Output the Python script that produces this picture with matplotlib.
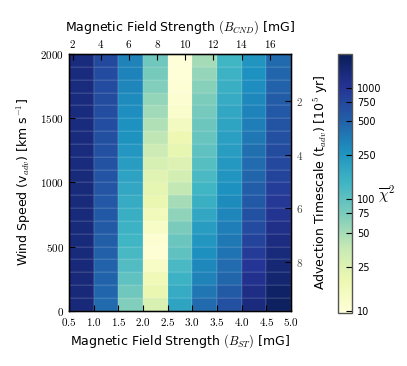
import numpy as np
import matplotlib
matplotlib.use("Agg")
import matplotlib.pyplot as plt
from matplotlib.colors import LogNorm
from matplotlib.ticker import FixedLocator, FuncFormatter

plt.rcParams['mathtext.fontset'] = 'cm'
plt.rcParams['font.family'] = ['DejaVu Sans']

# grid edges
b_st_edges = [0.5, 1.0, 1.5, 2.0, 2.5, 3.0, 3.5, 4.0, 4.5, 5.0]
v_edges = list(range(0, 2001, 100))

# chi^2 per B_ST column, listed from wind speed 0-100 upward to 1900-2000
col_075 = [1400, 1390, 1380, 1380, 1370, 1370, 1360, 1360, 1350, 1350,
           1350, 1340, 1340, 1340, 1330, 1330, 1330, 1320, 1320, 1320]
col_125 = [450, 470, 485, 500, 515, 530, 550, 565, 580, 600,
           620, 635, 650, 665, 680, 690, 700, 710, 715, 720]
col_175 = [70, 85, 100, 115, 130, 140, 150, 160, 170, 185,
           200, 220, 240, 260, 270, 280, 290, 310, 320, 330]
col_225 = [27, 20, 17, 13, 10.5, 11, 13, 16, 20, 22,
           24, 28, 33, 39, 45, 52, 60, 70, 78, 85]
col_275 = [190, 170, 150, 125, 100, 90, 75, 62, 50, 38,
           30, 25, 21, 18, 15, 12, 11, 10.5, 10.2, 10]
col_325 = [450, 380, 330, 300, 275, 245, 215, 185, 160, 140,
           125, 112, 100, 92, 86, 80, 73, 66, 58, 50]
col_375 = [650, 560, 480, 440, 400, 370, 340, 310, 290, 270,
           250, 235, 220, 210, 195, 185, 170, 160, 150, 140]
col_425 = [1300, 1200, 1100, 1000, 900, 800, 710, 640, 570, 520,
           480, 440, 410, 370, 340, 320, 300, 280, 265, 250]
col_475 = [1800, 1700, 1550, 1450, 1350, 1250, 1150, 1050, 950, 880,
           800, 750, 700, 660, 620, 580, 540, 500, 470, 450]

cb_ticks = [10, 25, 50, 75, 100, 250, 500, 750, 1000]
top_ticks = [2, 4, 6, 8, 10, 12, 14, 16]
right_ticks = [2, 4, 6, 8]

chi2 = np.column_stack([col_075, col_125, col_175, col_225, col_275,
                        col_325, col_375, col_425, col_475])

fig = plt.figure(figsize=(4.07, 3.66), dpi=100)
ax = fig.add_axes([0.1695, 0.151, 0.5455, 0.701])
cax = fig.add_axes([0.8305, 0.145, 0.0344, 0.707])

norm = LogNorm(vmin=9.6, vmax=2000)
mesh = ax.pcolormesh(b_st_edges, v_edges, chi2, cmap='YlGnBu', norm=norm,
                     edgecolor=(1, 1, 1, 0.07), linewidth=0.3)
ax.set_xlim(0.5, 5.0)
ax.set_ylim(0, 2000)

math_fmt = FuncFormatter(lambda v, p: r'$%d$' % v)
ax.set_xticks(b_st_edges)
ax.xaxis.set_major_formatter(FuncFormatter(lambda v, p: r'$%.1f$' % v))
ax.set_yticks([0, 500, 1000, 1500, 2000])
ax.yaxis.set_major_formatter(math_fmt)
ax.tick_params(direction='in', length=4, width=0.8, labelsize=8, top=False, right=False)
for s in ax.spines.values():
    s.set_linewidth(1.0)

ax.set_xlabel(r'Magnetic Field Strength $(B_{ST})$ [mG]', fontsize=9, labelpad=3)
ax.set_ylabel(r'Wind Speed (v$_{adv}$) [km s$^{-1}$]', fontsize=9, labelpad=5)

# top axis: B_CND
axt = ax.twiny()
axt.set_xlim(0.5 * 3.5, 5.0 * 3.5)
axt.set_xticks(top_ticks)
axt.xaxis.set_major_formatter(math_fmt)
axt.tick_params(direction='in', length=4, width=0.8, labelsize=8, pad=3)
axt.set_xlabel(r'Magnetic Field Strength $(B_{CND})$ [mG]', fontsize=9, labelpad=5)

# right axis: advection timescale
axr = ax.twinx()
axr.set_ylim(9.81, 0.25)
axr.set_yticks(right_ticks)
axr.yaxis.set_major_formatter(math_fmt)
axr.tick_params(direction='in', length=4, width=0.8, labelsize=8, labelcolor='#444444')
axr.set_ylabel(r'Advection Timescale (t$_{adv}$) [10$^5$ yr]', fontsize=9, labelpad=6)

cb = fig.colorbar(mesh, cax=cax)
cb.ax.yaxis.set_major_locator(FixedLocator(cb_ticks))
cb.ax.yaxis.set_major_formatter(FuncFormatter(lambda v, p: '%d' % v))
cb.ax.yaxis.set_minor_locator(FixedLocator([]))
cb.ax.tick_params(direction='in', length=4, width=0.8, labelsize=7)
cb.outline.set_edgecolor('#555555')
cb.outline.set_linewidth(1.0)
cb.set_label(r'$\overline{\chi}^2$', fontsize=11, rotation=0, labelpad=4)
cb.ax.yaxis.set_label_coords(3.45, 0.5)

fig.savefig('out.png', dpi=100)
